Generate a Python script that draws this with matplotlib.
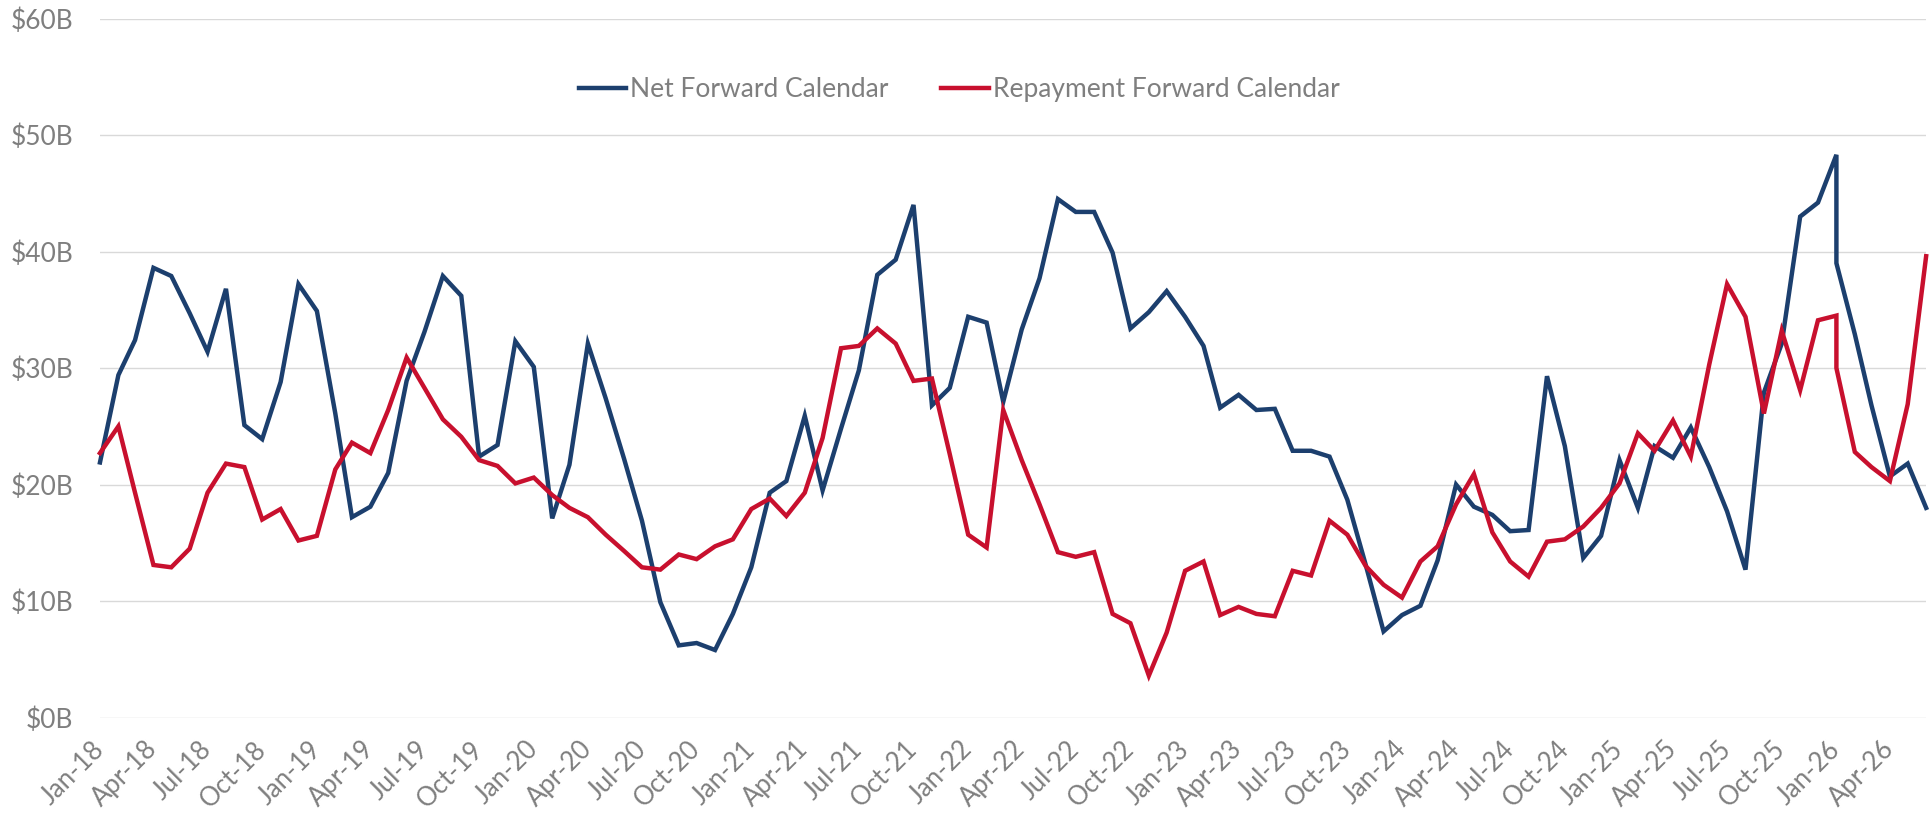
import pandas as pd
import matplotlib
matplotlib.use("Agg")
import matplotlib.pyplot as plt
import matplotlib.dates as mdates

# monthly dates, Jan-18 .. Jun-26 (Jan-26 appears twice in the source data)
months = list(pd.date_range("2018-01-01", "2026-06-01", freq="MS"))
months.insert(months.index(pd.Timestamp("2026-01-01")) + 1, pd.Timestamp("2026-01-01"))

# $B
net_forward = [
    21.9, 29.4, 32.4, 38.6, 37.9, 34.7, 31.4, 36.8, 25.1, 23.9, 28.8, 37.2,   # 2018
    34.9, 26.1, 17.2, 18.1, 21.0, 28.9, 33.1, 37.9, 36.2, 22.4, 23.4, 32.3,   # 2019
    30.1, 17.1, 21.7, 32.1, 27.4, 22.2, 16.9, 9.9, 6.2, 6.4, 5.8, 8.9,        # 2020
    12.9, 19.3, 20.3, 25.9, 19.5, 24.8, 29.8, 38.0, 39.3, 44.0, 26.8, 28.3,   # 2021
    34.4, 33.9, 27.1, 33.3, 37.7, 44.5, 43.4, 43.4, 39.9, 33.4, 34.8, 36.6,   # 2022
    34.4, 31.9, 26.6, 27.7, 26.4, 26.5, 22.9, 22.9, 22.4, 18.7, 13.1, 7.4,    # 2023
    8.8, 9.6, 13.5, 20.0, 18.1, 17.4, 16.0, 16.1, 29.3, 23.3, 13.7, 15.6,     # 2024
    22.1, 18.0, 23.3, 22.3, 24.9, 21.5, 17.7, 12.7, 27.9, 32.1, 43.0, 44.2,   # 2025
    48.3, 39.0, 32.9, 26.8, 20.7, 21.8, 18.0,                                 # 2026
]
repayment_forward = [
    22.7, 25.0, 19.3, 13.1, 12.9, 14.5, 19.3, 21.8, 21.5, 17.0, 17.9, 15.2,   # 2018
    15.6, 21.3, 23.6, 22.7, 26.4, 30.9, 28.3, 25.6, 24.1, 22.1, 21.6, 20.1,   # 2019
    20.6, 19.1, 18.0, 17.2, 15.7, 14.3, 12.9, 12.7, 14.0, 13.6, 14.7, 15.3,   # 2020
    17.9, 18.8, 17.3, 19.3, 24.0, 31.7, 31.9, 33.4, 32.1, 28.9, 29.1, 22.6,   # 2021
    15.7, 14.6, 26.4, 22.1, 18.3, 14.2, 13.8, 14.2, 8.9, 8.1, 3.6, 7.3,       # 2022
    12.6, 13.4, 8.8, 9.5, 8.9, 8.7, 12.6, 12.2, 16.9, 15.7, 13.0, 11.4,       # 2023
    10.3, 13.4, 14.7, 18.3, 20.9, 15.9, 13.4, 12.1, 15.1, 15.3, 16.4, 18.0,   # 2024
    20.1, 24.4, 22.9, 25.5, 22.4, 30.3, 37.2, 34.4, 26.1, 33.2, 28.1, 34.1,   # 2025
    34.5, 30.0, 22.8, 21.5, 20.3, 26.9, 39.6,                                 # 2026
]

tick_dates = pd.date_range("2018-01-01", "2026-04-01", freq="3MS")
tick_labels = [d.strftime("%b-%y") for d in tick_dates]
y_ticks = [0, 10, 20, 30, 40, 50, 60]
y_labels = ["$" + str(v) + "B" for v in y_ticks]

BLUE = "#1c3f6e"
RED = "#c8102e"
GREY = "#7f7f7f"

plt.rcParams["font.family"] = ["Lato", "DejaVu Sans"]

fig = plt.figure(figsize=(19.3, 8.15), dpi=100)
ax = fig.add_axes([0.0518, 0.1195, 0.9462, 0.8578])

x = mdates.date2num(months)
ax.plot(x, net_forward, color=BLUE, lw=3.2, label="Net Forward Calendar",
        solid_joinstyle="miter", clip_on=False)
ax.plot(x, repayment_forward, color=RED, lw=3.2, label="Repayment Forward Calendar",
        solid_joinstyle="miter", clip_on=False)

ax.set_xlim(x[0], x[-1])
ax.set_ylim(0, 60)

ax.set_yticks(y_ticks)
ax.set_yticklabels(y_labels)
ax.set_xticks(mdates.date2num(tick_dates))
ax.set_xticklabels(tick_labels, rotation=45, ha="right", va="center",
                   rotation_mode="anchor")

ax.tick_params(axis="both", length=0, labelsize=19, labelcolor=GREY)
ax.tick_params(axis="y", pad=19)
ax.tick_params(axis="x", labelsize=18.5, pad=20)

ax.yaxis.grid(True, color="#d9d9d9", lw=1.0)
ax.set_axisbelow(True)
for s in ax.spines.values():
    s.set_visible(False)

leg = fig.legend(loc="center", bbox_to_anchor=(0.497, 0.89), ncol=2,
                 frameon=False, fontsize=19, handlelength=1.8,
                 handletextpad=0.15, columnspacing=2.0)
for t in leg.get_texts():
    t.set_color(GREY)

fig.savefig("out.png", dpi=100)
